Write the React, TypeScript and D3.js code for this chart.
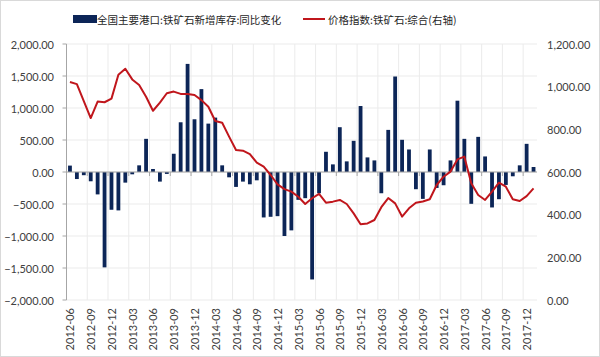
import React from "react";
import * as d3 from "d3";

const startYear = 2012;
const startMonth = 6;
const monthCount = 68;
const months: string[] = Array.from({ length: monthCount }, (_, i) => {
  const m = startMonth - 1 + i;
  const y = startYear + Math.floor(m / 12);
  const mm = (m % 12) + 1;
  return `${y}-${mm < 10 ? "0" + mm : mm}`;
});

const inventoryChange: number[] = [
  100, -110, -50, -145, -350, -1490, -590, -600, -166, -36, 104, 518,
  47, -150, -30, 285, 777, 1689, 824, 1295, 756, 850, 104, -83,
  -233, -150, -192, -130, -710, -700, -690, -1000, -912, -435, -409, -1679,
  -332, 316, 119, 700, 166, 487, 1031, 228, 181, -332, 658, 1492,
  503, 352, -269, -420, 352, -249, -207, 181, 1114, 518, -497, 549,
  243, -554, -425, -202, -67, 104, 440, 78,
];

const priceIndex: number[] = [
  1022, 1012, 932, 853, 930, 927, 944, 1056, 1084, 1034, 1008, 953,
  887, 925, 969, 977, 966, 966, 961, 937, 906, 839, 831, 766,
  703, 700, 684, 644, 625, 586, 542, 520, 508, 484, 450, 477,
  497, 456, 461, 469, 450, 406, 355, 359, 375, 435, 478, 453,
  391, 430, 456, 462, 472, 539, 578, 602, 659, 672, 547, 492,
  469, 508, 550, 531, 472, 464, 487, 523,
];

const leftTicks: number[] = [2000, 1500, 1000, 500, 0, -500, -1000, -1500, -2000];
const rightTicks: number[] = [1200, 1000, 800, 600, 400, 200, 0];

const seriesNames: string[] = ["全国主要港口:铁矿石新增库存:同比变化", "价格指数:铁矿石:综合(右轴)"];

const BAR_COLOR = "#0c2557";
const LINE_COLOR = "#c0161c";
const NUM_FONT = "Lato, 'Liberation Sans', sans-serif";
const CJK_FONT = "'Noto Sans CJK SC', sans-serif";

const fmt = (v: number) => d3.format(",.2f")(v);

export default function App() {
  const W = 600;
  const H = 357;
  const left = 66.5;
  const right = 537;
  const top = 44;
  const bottom = 300;

  const x = d3.scaleBand<string>().domain(months).range([left, right]).padding(0);
  const step = x.step();
  const bw = step * 0.55;
  const yL = d3.scaleLinear().domain([-2000, 2000]).range([bottom, top]);
  const yR = d3.scaleLinear().domain([0, 1200]).range([bottom, top]);
  const cx = (m: string) => (x(m) as number) + step / 2;

  const line = d3
    .line<number>()
    .x((_, i) => cx(months[i]))
    .y((d) => yR(d));

  const tickIdx = months.map((_, i) => i).filter((i) => i % 3 === 0);

  return (
    <svg
      width={W}
      height={H}
      style={{ position: "absolute", left: 0, top: 0, background: "#fff" }}
    >
      <rect x={0.5} y={0.5} width={W - 1} height={H - 1} fill="#fff" stroke="#d9d9d9" />
      {/* horizontal gridlines */}
      {leftTicks.map((t) => (
        <line key={"h" + t} x1={left} x2={right} y1={yL(t)} y2={yL(t)} stroke="#ebebeb" />
      ))}
      {/* vertical gridlines */}
      {tickIdx.map((i) => (
        <line key={"v" + i} x1={x(months[i])} x2={x(months[i])} y1={top} y2={bottom} stroke="#ebebeb" />
      ))}
      {/* bars */}
      {inventoryChange.map((v, i) => (
        <rect
          key={"b" + i}
          x={cx(months[i]) - bw / 2}
          y={Math.min(yL(v), yL(0))}
          width={bw}
          height={Math.abs(yL(v) - yL(0))}
          fill={BAR_COLOR}
        />
      ))}
      {/* left axis */}
      <line x1={left} x2={left} y1={top} y2={bottom} stroke="#a6a6a6" />
      {leftTicks.map((t) => (
        <g key={"lt" + t}>
          <line x1={left - 4} x2={left} y1={yL(t)} y2={yL(t)} stroke="#a6a6a6" />
          <text
            x={54}
            y={yL(t)}
            textAnchor="end"
            dominantBaseline="central"
            fontFamily={NUM_FONT}
            fontSize={11}
            fill="#404040"
          >
            {fmt(t)}
          </text>
        </g>
      ))}
      {/* right axis labels */}
      {rightTicks.map((t) => (
        <text
          key={"rt" + t}
          x={547}
          y={yR(t)}
          textAnchor="start"
          dominantBaseline="central"
          fontFamily={NUM_FONT}
          fontSize={11}
          fill="#404040"
        >
          {fmt(t)}
        </text>
      ))}
      {/* x axis at zero */}
      <line x1={left} x2={right} y1={yL(0)} y2={yL(0)} stroke="#a6a6a6" />
      {tickIdx.map((i) => (
        <line
          key={"xt" + i}
          x1={x(months[i])}
          x2={x(months[i])}
          y1={yL(0)}
          y2={yL(0) + 4}
          stroke="#a6a6a6"
        />
      ))}
      {tickIdx.map((i) => (
        <text
          key={"xl" + i}
          transform={`translate(${cx(months[i])},308) rotate(-90)`}
          textAnchor="end"
          dominantBaseline="central"
          fontFamily={NUM_FONT}
          fontSize={11}
          fill="#404040"
        >
          {months[i]}
        </text>
      ))}
      {/* price line */}
      <path d={line(priceIndex) || ""} fill="none" stroke={LINE_COLOR} strokeWidth={2} strokeLinejoin="round" />
      {/* legend */}
      <rect x={73} y={15} width={24} height={8} fill={BAR_COLOR} />
      <text x={97} y={19} dominantBaseline="central" fontFamily={CJK_FONT} fontSize={10.5} fill="#262626">
        {seriesNames[0]}
      </text>
      <line x1={303} x2={325} y1={19} y2={19} stroke={LINE_COLOR} strokeWidth={2} />
      <text x={328} y={19} dominantBaseline="central" fontFamily={CJK_FONT} fontSize={10.5} fill="#262626">
        {seriesNames[1]}
      </text>
    </svg>
  );
}
